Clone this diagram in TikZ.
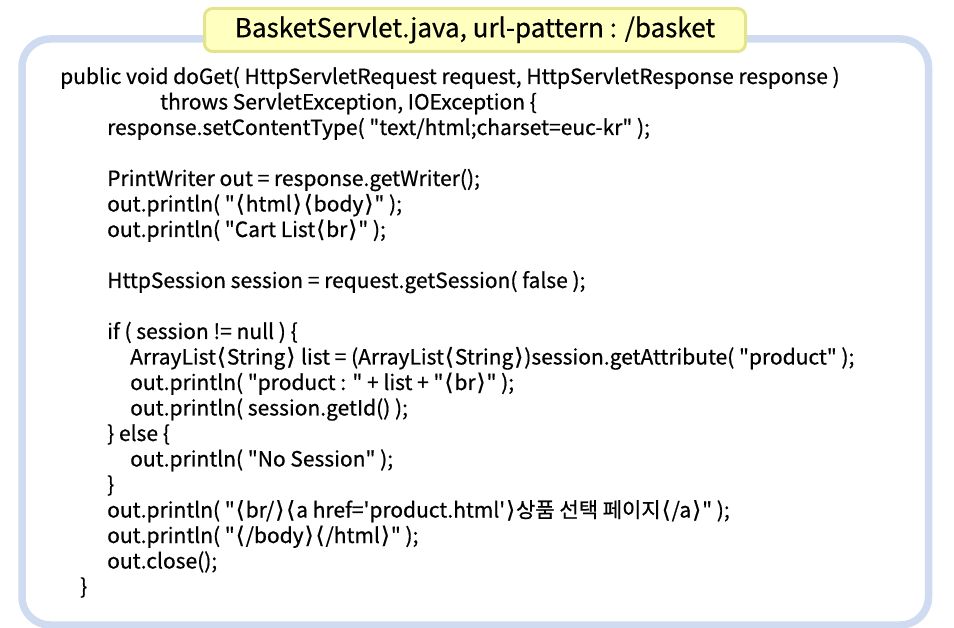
\documentclass[tikz,border=0pt]{standalone}
\usepackage{fontspec}
\setmainfont{Noto Sans CJK KR}[Ligatures=TeXOff, FakeBold=0.6]
\newfontfamily\angfont{DejaVu Sans}[FakeBold=0.4]
\newcommand{\ltag}{\kern1pt{\angfont\fontsize{23}{24}\selectfont ⟨}\kern1pt}
\newcommand{\rtag}{\kern1pt{\angfont\fontsize{23}{24}\selectfont ⟩}\kern1pt}
\definecolor{framegray}{RGB}{207,219,240}
\definecolor{titlefill}{RGB}{255,255,192}
\definecolor{titleline}{RGB}{228,228,140}
\begin{document}
\begin{tikzpicture}[x=1pt, y=-1pt,
  code/.style={anchor=base west, inner sep=0pt, font=\fontsize{21}{24}\selectfont},
  titlebox/.style={draw=titleline, fill=titlefill, line width=3pt, rounded corners=8pt,
    minimum width=541pt, minimum height=43pt, inner sep=0pt, font=\fontsize{26}{30}\selectfont}]
\useasboundingbox (0,0) rectangle (954,628);
\draw[framegray, line width=7.5pt, rounded corners=28pt] (22,39) rectangle (928.5,625);
\node[titlebox] (title) at (475,30) {BasketServlet.java, url-pattern : /basket};

\node[code] (l1)  at (60,84)    {public void doGet( HttpServletRequest request, HttpServletResponse response )};
\node[code] (l2)  at (160,109.5) {throws ServletException, IOException \{};
\node[code] (l3)  at (107,135)  {response.setContentType( "text/html;charset=euc-kr" );};

\node[code] (l5)  at (107,186)  {PrintWriter out = response.getWriter();};
\node[code] (l6)  at (107,211.5) {out.println( "\ltag html\rtag\ltag body\rtag" );};
\node[code] (l7)  at (107,237)  {out.println( "Cart List\ltag br\rtag" );};

\node[code] (l9)  at (107,288)  {HttpSession session = request.getSession( false );};

\node[code] (l11) at (107,339)  {if ( session != null ) \{};
\node[code] (l12) at (130,364.5) {ArrayList\ltag String\rtag\ list = (ArrayList\ltag String\rtag)session.getAttribute( "product" );};
\node[code] (l13) at (130,390)  {out.println( "product : " + list + "\ltag br\rtag" );};
\node[code] (l14) at (130,415.5) {out.println( session.getId() );};
\node[code] (l15) at (107,441)  {\} else \{};
\node[code] (l16) at (130,466.5) {out.println( "No Session" );};
\node[code] (l17) at (107,492)  {\}};
\node[code] (l18) at (107,517.5) {out.println( "\ltag br/\rtag\ltag a href='product.html'\rtag 상품 선택 페이지\ltag/a\rtag" );};
\node[code] (l19) at (107,543)  {out.println( "\ltag/body\rtag\ltag/html\rtag" );};
\node[code] (l20) at (107,568.5) {out.close();};
\node[code] (l21) at (80,594)   {\}};
\end{tikzpicture}
\end{document}
